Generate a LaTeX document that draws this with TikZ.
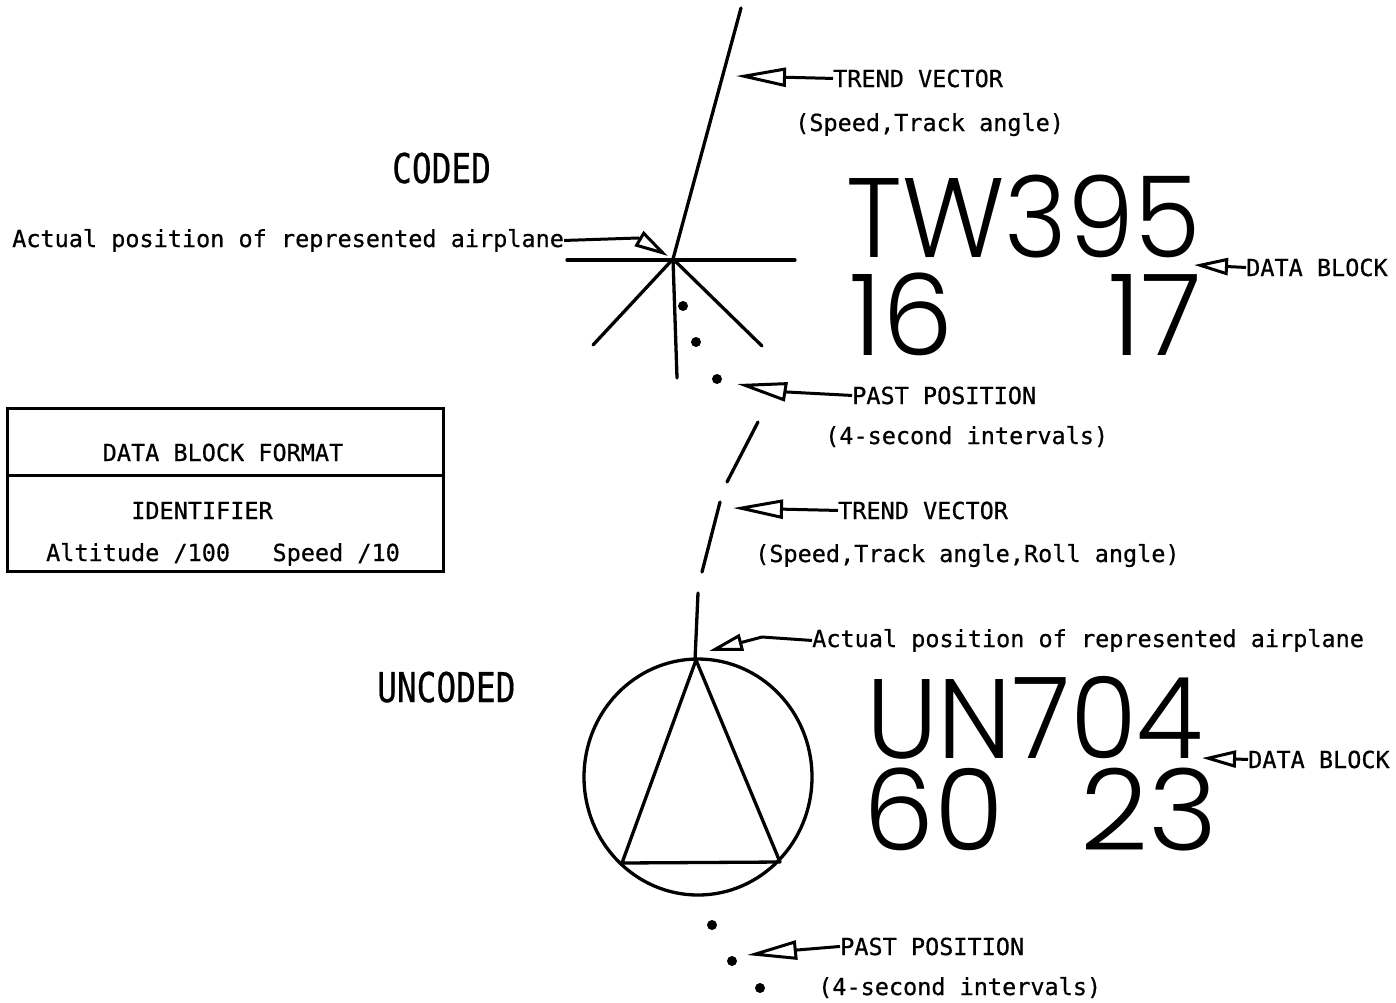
\documentclass[tikz,border=0pt]{standalone}
\usepackage{fontspec}
\usepackage{graphicx}
\newfontfamily\lblfont{DejaVu Sans Mono}[FakeBold=0.6]
\newfontfamily\bigfont{Poppins Light}
\usetikzlibrary{arrows.meta}
\tikzset{
  lbl/.style={font=\lblfont\fontsize{23.5}{28}\selectfont, inner sep=0pt, anchor=base west},
  hdr/.style={font=\lblfont\fontsize{41}{48}\selectfont, inner sep=0pt, anchor=base west},
  blk/.style={font=\bigfont\fontsize{113}{130}\selectfont, inner sep=0pt, anchor=base west},
  stroke/.style={line width=3.3pt, line cap=round},
  bigptr/.style={line width=3pt, -{Triangle[open, length=50pt, width=19pt, line width=3pt]}},
  smallptr/.style={line width=3pt, -{Triangle[open, length=34pt, width=17pt, line width=3pt]}},
  dot/.style={fill=black, draw=none}
}
\begin{document}
\begin{tikzpicture}[x=1pt, y=-1pt]
\useasboundingbox (0,0) rectangle (1396,1002);
% ---------- CODED ----------
\coordinate (C) at (673,259);
\draw[stroke] (C) -- (741,8);
\draw[stroke] (567,260) -- (795,260);
\draw[stroke] (C) -- (593,345);
\draw[stroke] (C) -- (762,346);
\draw[stroke] (C) -- (677,378);
\fill[dot] (683,306) circle (5);
\fill[dot] (696,342) circle (5);
\fill[dot] (717,379) circle (5);

\node[hdr] (coded) at (392,183) {\scalebox{0.8}[1]{CODED}};

\node[lbl] (tv1) at (833,87) {TREND VECTOR};
\node[lbl] (tv1b) at (795,131) {(Speed,Track angle)};
\coordinate (tipA) at (736,76);
\draw[bigptr] (tv1.west) -- (tipA);

\node[lbl] (ap1) at (12,247) {Actual position of represented airplane};
\coordinate (viaB) at (638,238);
\coordinate (tipB) at (668,256);
\draw[smallptr] (ap1.east) -- (viaB) -- (tipB);

\node[blk] (tw) at (846,257) {\scalebox{0.95}[1]{TW395}};
\node[blk] (n16) at (849,355) {16};
\node[blk] (n17) at (1108,355) {17};

\node[lbl] (db1) at (1246,276) {DATA BLOCK};
\coordinate (tipC) at (1194,265);
\draw[smallptr] (db1.west) -- (tipC);

\node[lbl] (pp1) at (852,404) {PAST POSITION};
\node[lbl] (pp1b) at (825,444) {(4-second intervals)};
\coordinate (viaD) at (787,392);
\coordinate (tipD) at (737,384);
\draw[bigptr] (pp1.west) -- (viaD) -- (tipD);

% ---------- UNCODED ----------
\draw[stroke] (758,422) -- (727,482);
\draw[stroke] (720,502) -- (702,572);
\draw[stroke] (698,593) -- (695,660);

\node[lbl] (tv2) at (838,519) {TREND VECTOR};
\node[lbl] (tv2b) at (755,562) {(Speed,Track angle,Roll angle)};
\coordinate (tipE) at (733,508);
\draw[bigptr] (tv2.west) -- (tipE);

\node[lbl] (ap2) at (812,647) {Actual position of represented airplane};
\coordinate (viaF) at (762,637);
\coordinate (tipF) at (709,651);
\draw[smallptr] (ap2.west) -- (viaF) -- (tipF);

\node[hdr] (uncoded) at (377,702) {\scalebox{0.8}[1]{UNCODED}};

\draw[stroke] (698,777) ellipse [x radius=114, y radius=118];
\draw[stroke, line join=round] (696,660) -- (622,863) -- (780,862) -- cycle;

\node[blk] (un) at (866,758) {\scalebox{0.96}[1]{UN704}};
\node[blk] (n60) at (863,850) {60};
\node[blk] (n23) at (1080,850) {\scalebox{1.05}[1]{23}};

\node[lbl] (db2) at (1248,768) {DATA BLOCK};
\coordinate (tipG) at (1202,758);
\draw[smallptr] (db2.west) -- (tipG);

\fill[dot] (712,925) circle (5);
\fill[dot] (732,961) circle (5);
\fill[dot] (760,988) circle (5);

\node[lbl] (pp2) at (840,955) {PAST POSITION};
\node[lbl] (pp2b) at (818,995) {(4-second intervals)};
\coordinate (viaH) at (797,950);
\coordinate (tipH) at (747,955);
\draw[bigptr] (pp2.west) -- (viaH) -- (tipH);

% ---------- FORMAT BOX ----------
\draw[line width=3pt] (7,408) rectangle (443,571);
\draw[line width=3pt] (7,475) -- (443,475);
\node[lbl, anchor=base] (fmt) at (223,461) {DATA BLOCK FORMAT};
\node[lbl, anchor=base] (ident) at (202,519) {IDENTIFIER};
\node[lbl, anchor=base] (altspd) at (223,561) {Altitude /100~~~Speed /10};
\end{tikzpicture}
\end{document}
